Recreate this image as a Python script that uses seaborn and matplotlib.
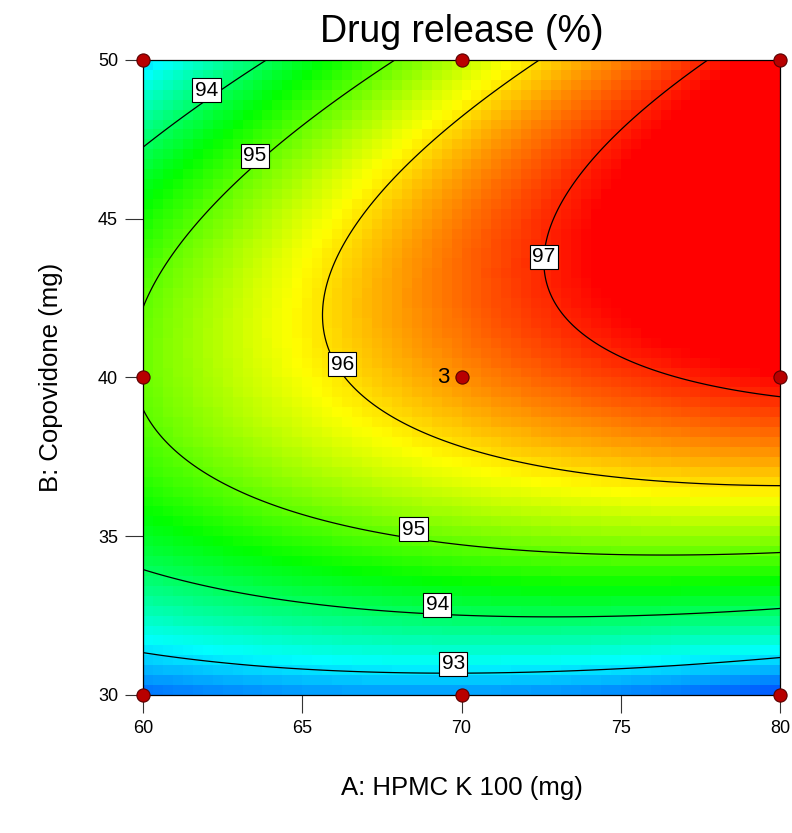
import numpy as np
import pandas as pd
import matplotlib
matplotlib.use("Agg")
import matplotlib.pyplot as plt
from matplotlib.colors import LinearSegmentedColormap, Normalize
import seaborn as sns

# ---- data -----------------------------------------------------------------
# factor ranges (mg)
hpmc_range = [60, 80]
copo_range = [30, 50]
# design points of the 3x3 factorial
design_hpmc = [60, 70, 80, 60, 70, 80, 60, 70, 80]
design_copo = [30, 30, 30, 40, 40, 40, 50, 50, 50]
center_reps = "3"
# quadratic model in coded units: b0, A, B, AB, A^2, B^2
coefs = [96.43, 1.057, 1.448, 1.159, -0.320, -2.400]
# contour levels and where their labels sit
levels = [93, 94, 95, 96, 97]
label_spots = [(61.98, 48.76), (63.5, 46.7), (66.24, 40.1), (72.5, 43.5),
               (68.49, 34.94), (69.24, 32.57), (69.74, 30.70)]
# colour scale limits (response %)
color_lo, color_hi = 91.8, 97.2

# ---- style -----------------------------------------------------------------
sns.set_style("white")
plt.rcParams["font.family"] = ["Liberation Sans", "DejaVu Sans"]
plt.rcParams.update({"text.color": "black", "axes.labelcolor": "black",
                     "xtick.color": "black", "ytick.color": "black"})

def drug_release(a, b):
    x1 = (a - 70) / 10
    x2 = (b - 40) / 10
    b0, b1, b2, b12, b11, b22 = coefs
    return b0 + b1*x1 + b2*x2 + b12*x1*x2 + b11*x1**2 + b22*x2**2

# pixelated surface like the original software
n = 64
a_edges = np.linspace(*hpmc_range, n + 1)
b_edges = np.linspace(*copo_range, n + 1)
a_mid = (a_edges[:-1] + a_edges[1:]) / 2
b_mid = (b_edges[:-1] + b_edges[1:]) / 2
Z_cells = drug_release(*np.meshgrid(a_mid, b_mid))

a_fine = np.linspace(*hpmc_range, 300)
b_fine = np.linspace(*copo_range, 300)
AA, BB = np.meshgrid(a_fine, b_fine)
Z_fine = drug_release(AA, BB)

cmap = LinearSegmentedColormap.from_list(
    "de", ["#0000ff", "#00ffff", "#00ff00", "#ffff00", "#ff0000"])

fig = plt.figure(figsize=(7.92, 8.33), dpi=100)
ax = fig.add_axes([0.1806, 0.1657, 0.8043, 0.7623])

ax.pcolormesh(a_edges, b_edges, Z_cells, cmap=cmap,
              norm=Normalize(color_lo, color_hi, clip=True), shading="flat")
cs = ax.contour(AA, BB, Z_fine, levels=levels, colors="black", linewidths=0.9)
labels = ax.clabel(cs, fmt="%d", manual=label_spots, inline=False, fontsize=15)
for t in labels:
    t.set_fontsize(15)
    t.set_rotation(0)
    t.set_va("bottom")
    t.set_bbox(dict(boxstyle="square,pad=0.12", fc="white", ec="black", lw=0.8))
    t.set_zorder(5)

pts = pd.DataFrame({"A": design_hpmc, "B": design_copo})
sns.scatterplot(data=pts, x="A", y="B", ax=ax, s=90, color="#b80000",
                edgecolor="#5a0000", linewidth=0.8, clip_on=False, zorder=10,
                legend=False)
ax.annotate(center_reps, (70, 40), xytext=(-9, 0), textcoords="offset points",
            ha="right", va="center", fontsize=16)

ax.set_xlim(*hpmc_range)
ax.set_ylim(*copo_range)
ax.set_xticks([60, 65, 70, 75, 80])
ax.set_yticks([30, 35, 40, 45, 50])
ax.tick_params(direction="out", length=13, width=0.8, color="#333333",
               labelsize=13, pad=5, bottom=True, left=True)
for s in ax.spines.values():
    s.set_color("black")
    s.set_linewidth(0.9)

ax.set_title("Drug release (%)", fontsize=27, pad=13)
ax.set_xlabel("A: HPMC K 100 (mg)", fontsize=18.5, labelpad=28)
ax.set_ylabel("B: Copovidone (mg)", fontsize=18.5, labelpad=25)

fig.savefig("out.png", dpi=100)
